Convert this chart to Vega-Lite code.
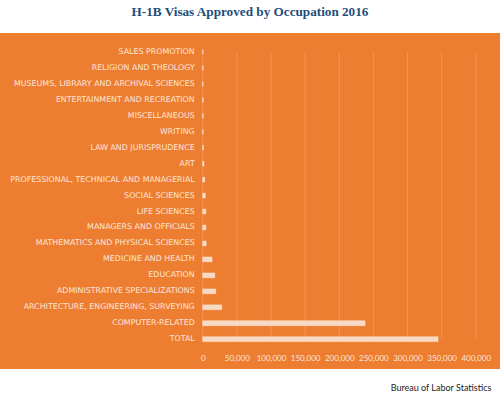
{
  "$schema": "https://vega.github.io/schema/vega-lite/v6.json",
  "width": 500,
  "height": 324,
  "autosize": {"type": "none"},
  "padding": {"left": 0, "right": 0, "top": 39, "bottom": 36},
  "background": "white",
  "title": {
    "text": "H-1B Visas Approved by Occupation 2016",
    "font": "Liberation Serif",
    "fontSize": 13.2,
    "fontWeight": "bold",
    "color": "#1F4E79",
    "anchor": "middle",
    "offset": 20
  },
  "datasets": {
    "occ": [
      {"occupation": "SALES PROMOTION", "visas": 250},
      {"occupation": "RELIGION AND THEOLOGY", "visas": 500},
      {"occupation": "MUSEUMS, LIBRARY AND ARCHIVAL SCIENCES", "visas": 350},
      {"occupation": "ENTERTAINMENT AND RECREATION", "visas": 700},
      {"occupation": "MISCELLANEOUS", "visas": 600},
      {"occupation": "WRITING", "visas": 400},
      {"occupation": "LAW AND JURISPRUDENCE", "visas": 900},
      {"occupation": "ART", "visas": 1800},
      {"occupation": "PROFESSIONAL, TECHNICAL AND MANAGERIAL", "visas": 2800},
      {"occupation": "SOCIAL SCIENCES", "visas": 3800},
      {"occupation": "LIFE SCIENCES", "visas": 4500},
      {"occupation": "MANAGERS AND OFFICIALS", "visas": 4500},
      {"occupation": "MATHEMATICS AND PHYSICAL SCIENCES", "visas": 5000},
      {"occupation": "MEDICINE AND HEALTH", "visas": 13600},
      {"occupation": "EDUCATION", "visas": 17600},
      {"occupation": "ADMINISTRATIVE SPECIALIZATIONS", "visas": 19000},
      {"occupation": "ARCHITECTURE, ENGINEERING, SURVEYING", "visas": 27800},
      {"occupation": "COMPUTER-RELATED", "visas": 237800},
      {"occupation": "TOTAL", "visas": 344700}
    ],
    "ticks": [
      {"t": 0}, {"t": 50000}, {"t": 100000}, {"t": 150000}, {"t": 200000},
      {"t": 250000}, {"t": 300000}, {"t": 350000}, {"t": 400000}
    ]
  },
  "layer": [
    {
      "data": {"name": "ticks"},
      "mark": {"type": "rule", "color": "#F19556", "strokeWidth": 1},
      "encoding": {
        "x": {
          "field": "t", "type": "quantitative",
          "scale": {"domain": [-297000, 435500], "nice": false, "zero": false},
          "axis": {
            "orient": "bottom",
            "offset": -13,
            "values": [0, 50000, 100000, 150000, 200000, 250000, 300000, 350000, 400000],
            "format": ",d",
            "domain": false,
            "ticks": false,
            "grid": false,
            "labelPadding": 4,
            "labelBaseline": "top",
            "labelFont": "Lato",
            "labelFontSize": 8,
            "labelColor": "#FCE6D8",
            "labelFlush": false,
            "labelOverlap": false,
            "title": "Bureau of Labor Statistics",
            "titleX": 491,
            "titleY": 37,
            "titleAlign": "right",
            "titleBaseline": "middle",
            "titleFont": "Lato",
            "titleFontSize": 9,
            "titleFontWeight": "normal",
            "titleColor": "#222222"
          }
        },
        "y": {
          "datum": "SALES PROMOTION", "type": "nominal",
          "scale": {
            "type": "band", "paddingInner": 0.7, "paddingOuter": 1, "align": 0.33,
            "domain": ["SALES PROMOTION", "RELIGION AND THEOLOGY", "MUSEUMS, LIBRARY AND ARCHIVAL SCIENCES", "ENTERTAINMENT AND RECREATION", "MISCELLANEOUS", "WRITING", "LAW AND JURISPRUDENCE", "ART", "PROFESSIONAL, TECHNICAL AND MANAGERIAL", "SOCIAL SCIENCES", "LIFE SCIENCES", "MANAGERS AND OFFICIALS", "MATHEMATICS AND PHYSICAL SCIENCES", "MEDICINE AND HEALTH", "EDUCATION", "ADMINISTRATIVE SPECIALIZATIONS", "ARCHITECTURE, ENGINEERING, SURVEYING", "COMPUTER-RELATED", "TOTAL"]
          },
          "axis": null
        },
        "y2": {"datum": "TOTAL"}
      }
    },
    {
      "data": {"name": "occ"},
      "mark": {"type": "bar", "fill": "#FAD9C2", "stroke": "#FDEEE3", "strokeWidth": 0.5},
      "encoding": {
        "y": {"field": "occupation", "type": "nominal", "sort": null},
        "x": {"field": "visas", "type": "quantitative"}
      }
    },
    {
      "data": {"name": "occ"},
      "mark": {"type": "text", "align": "right", "baseline": "middle", "dx": -8, "font": "DejaVu Sans", "fontSize": 7.9, "color": "#FCE6D8"},
      "encoding": {
        "y": {"field": "occupation", "type": "nominal", "sort": null},
        "x": {"datum": 0, "type": "quantitative"},
        "text": {"field": "occupation"}
      }
    }
  ],
  "resolve": {"scale": {"x": "shared", "y": "shared"}},
  "config": {
    "view": {"fill": "#ED7D31", "stroke": "#ED7D31", "strokeWidth": 12}
  }
}
